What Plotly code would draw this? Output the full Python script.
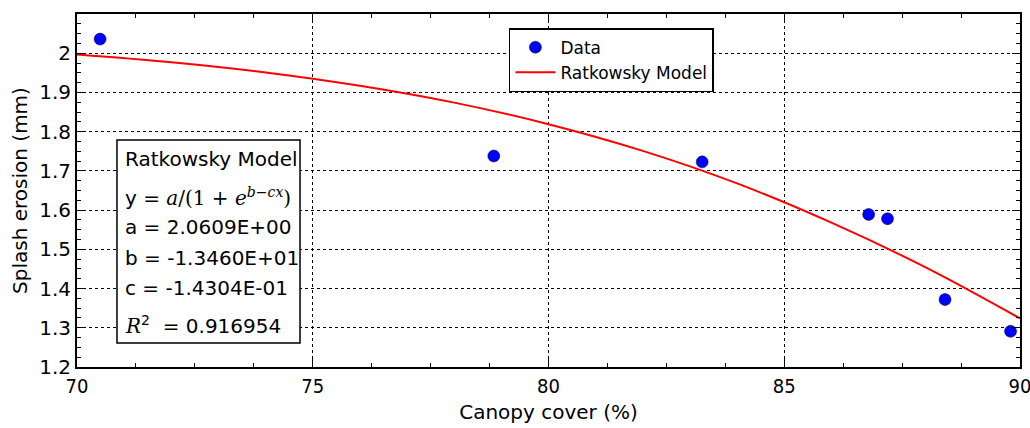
import plotly.graph_objects as go

canopy_cover = [70.49, 78.84, 83.26, 86.79, 87.19, 88.41, 89.80]
splash_erosion = [2.036, 1.738, 1.723, 1.589, 1.578, 1.372, 1.291]

# Ratkowsky model curve
model_x = [70, 72, 74, 76, 78, 80, 82, 84, 86, 88, 90]
model_y = [1.997, 1.977, 1.951, 1.917, 1.874, 1.819, 1.751, 1.668, 1.568, 1.454, 1.324]

x_ticks = [70, 75, 80, 85, 90]
y_ticks = [1.2, 1.3, 1.4, 1.5, 1.6, 1.7, 1.8, 1.9, 2.0]
y_tick_text = ["1.2", "1.3", "1.4", "1.5", "1.6", "1.7", "1.8", "1.9", "2"]

box_lines = [
    "Ratkowsky Model",
    "y = <i style='font-family:DejaVu Serif'>a</i>"
    "<span style='font-family:DejaVu Serif'>/(1 + </span>"
    "<i style='font-family:DejaVu Serif'>e</i>"
    "<sup><i style='font-family:DejaVu Serif'>b−cx</i></sup>"
    "<span style='font-family:DejaVu Serif'>)</span>",
    "a = 2.0609E+00",
    "b = -1.3460E+01",
    "c = -1.4304E-01",
    "<i style='font-family:DejaVu Serif'>R</i><sup>2</sup>  = 0.916954",
]
box_line_y = [0.589, 0.482, 0.397, 0.309, 0.224, 0.119]

FONT = "DejaVu Sans"
NARROW = "DejaVu Sans Condensed, Liberation Sans Narrow, DejaVu Sans"

fig = go.Figure()
fig.add_trace(go.Scatter(
    x=model_x, y=model_y, mode="lines", name="Ratkowsky Model",
    line=dict(color="#ff0000", width=2, shape="spline"),
))
fig.add_trace(go.Scatter(
    x=canopy_cover, y=splash_erosion, mode="markers", name="Data",
    marker=dict(color="#0000ff", size=12, line=dict(color="#000033", width=0.5)),
))

axis_common = dict(
    showline=True, linecolor="black", linewidth=2, mirror="ticks",
    ticks="inside", ticklen=8, tickwidth=1.2, tickcolor="black",
    showgrid=True, gridcolor="black", griddash="dot", gridwidth=1,
    zeroline=False, ticklabeloverflow="allow", automargin=False,
)

fig.update_xaxes(
    range=[70, 90], tickvals=x_ticks,
    tickfont=dict(family=NARROW, size=20, color="black"),
    minor=dict(dtick=1.25, ticks="inside", ticklen=4, tickcolor="black", showgrid=False),
    title=dict(text="Canopy cover (%)", font=dict(family=FONT, size=20, color="black"), standoff=8),
    **axis_common,
)
fig.update_yaxes(
    range=[1.2, 2.1], tickvals=y_ticks, ticktext=y_tick_text,
    tickfont=dict(family=FONT, size=20, color="black"),
    minor=dict(dtick=0.025, tick0=1.2, ticks="inside", ticklen=4, tickcolor="black", showgrid=False),
    title=dict(text="Splash erosion (mm)", font=dict(family=FONT, size=20, color="black"), standoff=6),
    **axis_common,
)

# Text box
fig.add_shape(type="rect", xref="paper", yref="paper",
              x0=0.0424, x1=0.2365, y0=0.068, y1=0.643,
              line=dict(color="black", width=1.5), fillcolor="white", layer="above")
for txt, yy in zip(box_lines, box_line_y):
    fig.add_annotation(xref="paper", yref="paper", x=0.0488, y=yy,
                       xanchor="left", yanchor="middle", showarrow=False,
                       text=txt, font=dict(family=FONT, size=20, color="black"))

fig.update_layout(
    width=1030, height=428,
    margin=dict(l=77, r=10, t=14, b=61),
    plot_bgcolor="white", paper_bgcolor="white",
    font=dict(family=FONT, color="black"),
    legend=dict(
        x=0.458, y=0.960, xanchor="left", yanchor="top",
        bordercolor="black", borderwidth=1.5, bgcolor="white",
        font=dict(family=FONT, size=17, color="black"),
        traceorder="reversed", itemwidth=40,
    ),
)

fig.write_html("out.html")
